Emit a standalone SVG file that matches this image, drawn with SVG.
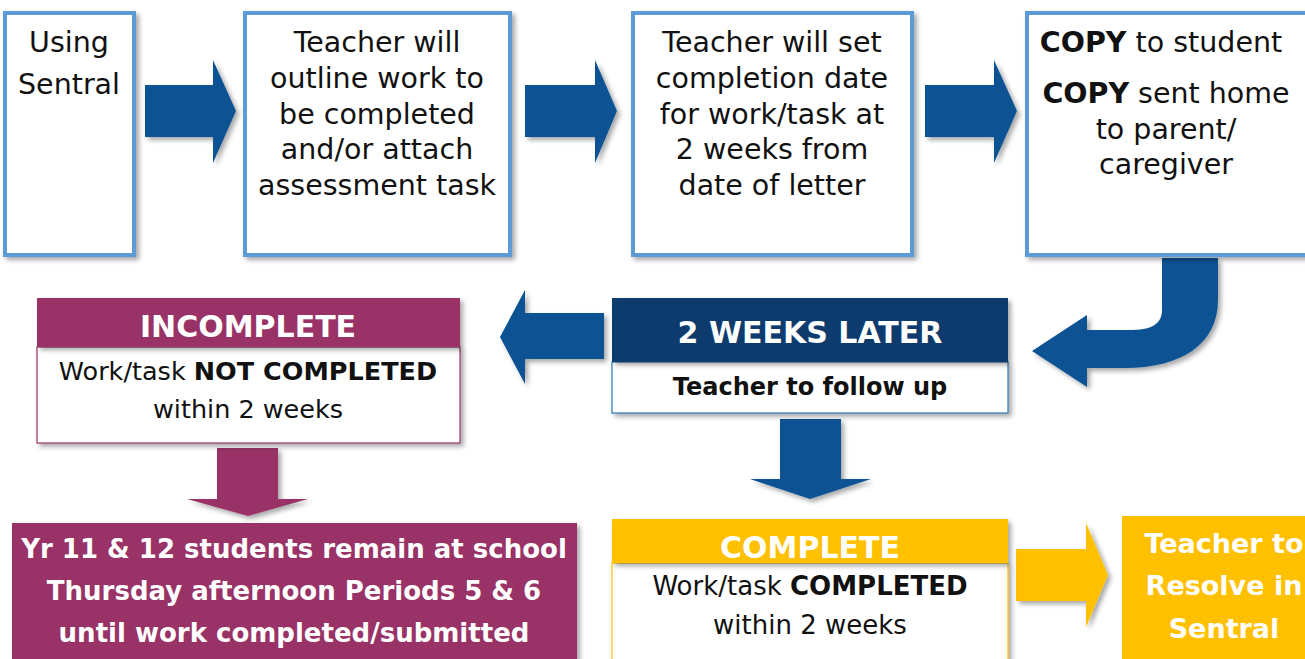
<svg xmlns="http://www.w3.org/2000/svg" width="1305" height="659" viewBox="0 0 1305 659">
<defs>
<filter id="sh" x="-10%" y="-10%" width="130%" height="130%">
<feDropShadow dx="3" dy="3" stdDeviation="2.5" flood-color="#000" flood-opacity="0.35"/>
</filter>
<style>
.box{fill:#fff;stroke:#5b9bd5;stroke-width:4;filter:url(#sh)}
.t{font-family:"DejaVu Sans","Liberation Sans",sans-serif;font-size:28.5px;fill:#111;text-anchor:middle}
.b{font-weight:bold}
.w{fill:#fff}
.blue{fill:#0b5394;filter:url(#sh)}
.maroon{fill:#993366}
.yellow{fill:#ffc000}
.navy{fill:#0a3b6e}
</style>
</defs>
<rect width="1305" height="659" fill="#fff"/>

<g id="connectors">
<path class="blue" d="M145 85 H213 V60 L236 111 L213 163 V137 H145 Z"/>
<path class="blue" d="M525 85 H595 V60 L617 111 L595 163 V137 H525 Z"/>
<path class="blue" d="M925 85 H994 V60 L1017 111 L994 163 V137 H925 Z"/>
<path class="blue" d="M1162 258 H1218 V300 C1218 345 1180 368 1125 368 H1087 V387 L1032 351 L1087 315 V330 H1130 C1150 330 1162 325 1162 310 Z"/>
<path class="blue" d="M604 313 V359 H525 V384 L500 337 L525 290 V313 Z"/>
<path class="blue" d="M780 419 H841 V479 H871 L810 499 L750 479 H780 Z"/>
<path class="maroon" style="filter:url(#sh)" d="M217 448 H278 V499 H308 L248 516 L187 499 H217 Z"/>
<path class="yellow" style="filter:url(#sh)" d="M1016 549 H1086 V523 L1108 575 L1086 627 V601 H1016 Z"/>
</g>

<g id="n1">
<rect class="box" x="5" y="13" width="129" height="242"/>
<text class="t" x="69" y="52">Using</text>
<text class="t" x="69" y="94">Sentral</text>
</g>

<g id="n2">
<rect class="box" x="245" y="13" width="265" height="242"/>
<text class="t" x="377" y="52">Teacher will</text>
<text class="t" x="377" y="88">outline work to</text>
<text class="t" x="377" y="124">be completed</text>
<text class="t" x="377" y="159">and/or attach</text>
<text class="t" x="377" y="195">assessment task</text>
</g>

<g id="n3">
<rect class="box" x="633" y="13" width="279" height="242"/>
<text class="t" x="772" y="52">Teacher will set</text>
<text class="t" x="772" y="88">completion date</text>
<text class="t" x="772" y="124">for work/task at</text>
<text class="t" x="772" y="159">2 weeks from</text>
<text class="t" x="772" y="195">date of letter</text>
</g>

<g id="n4">
<rect class="box" x="1027" y="13" width="290" height="242"/>
<text class="t" x="1161" y="52"><tspan class="b">COPY</tspan> to student</text>
<text class="t" x="1166" y="103"><tspan class="b">COPY</tspan> sent home</text>
<text class="t" x="1166" y="139">to parent/</text>
<text class="t" x="1166" y="174">caregiver</text>
</g>

<g id="n5">
<rect x="612" y="362" width="396" height="51" fill="#fff" stroke="#2e75b6" stroke-width="1.2" style="filter:url(#sh)"/>
<rect class="navy" x="612" y="298" width="396" height="64" style="filter:url(#sh)"/>
<text class="t b w" x="810" y="343" style="font-size:30px">2 WEEKS LATER</text>
<text class="t b" x="810" y="395" style="font-size:24px">Teacher to follow up</text>
</g>

<g id="n6">
<rect x="37" y="347" width="423" height="96" fill="#fff" stroke="#993366" stroke-width="1.2" style="filter:url(#sh)"/>
<rect class="maroon" x="37" y="298" width="423" height="49" style="filter:url(#sh)"/>
<text class="t b w" x="248" y="337" style="font-size:30px">INCOMPLETE</text>
<text class="t" x="248" y="380" style="font-size:25.5px">Work/task <tspan class="b">NOT COMPLETED</tspan></text>
<text class="t" x="248" y="418" style="font-size:25.5px">within 2 weeks</text>
</g>

<g id="n7">
<rect class="maroon" x="12" y="523" width="565" height="145" style="filter:url(#sh)"/>
<text class="t b w" x="294" y="558" style="font-size:26px">Yr 11 &amp; 12 students remain at school</text>
<text class="t b w" x="294" y="600" style="font-size:26px">Thursday afternoon Periods 5 &amp; 6</text>
<text class="t b w" x="294" y="642" style="font-size:26px">until work completed/submitted</text>
</g>

<g id="n8">
<rect x="612" y="563" width="396" height="110" fill="#fff" stroke="#ffc000" stroke-width="1.2" style="filter:url(#sh)"/>
<rect class="yellow" x="612" y="519" width="396" height="44" style="filter:url(#sh)"/>
<text class="t b w" x="810" y="558" style="font-size:30px">COMPLETE</text>
<text class="t" x="810" y="595" style="font-size:26px">Work/task <tspan class="b">COMPLETED</tspan></text>
<text class="t" x="810" y="634" style="font-size:26px">within 2 weeks</text>
</g>

<g id="n9">
<rect class="yellow" x="1122" y="516" width="200" height="160"/>
<text class="t b w" x="1224" y="553" style="font-size:27px">Teacher to</text>
<text class="t b w" x="1224" y="595" style="font-size:27px">Resolve in</text>
<text class="t b w" x="1224" y="638" style="font-size:27px">Sentral</text>
</g>
</svg>
